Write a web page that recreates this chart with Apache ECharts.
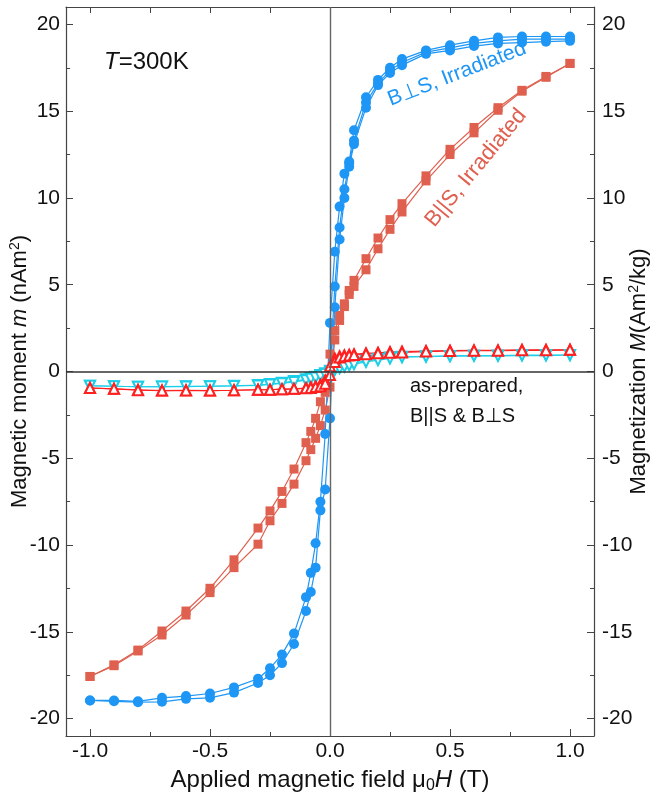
<!DOCTYPE html>
<html>
<head>
<meta charset="utf-8">
<script src="https://cdn.jsdelivr.net/npm/echarts@6/dist/echarts.min.js"></script>
<style>
html,body{margin:0;padding:0;background:#fff;}
#chart{width:657px;height:792px;}
</style>
</head>
<body>
<div id="chart"></div>
<script>
// Field values (T)
const H_DESC = [1, 0.9, 0.8, 0.7, 0.6, 0.5, 0.4, 0.3, 0.25, 0.2, 0.15, 0.1, 0.08, 0.06, 0.04, 0.02, 0, -0.02, -0.04, -0.06, -0.08, -0.1, -0.15, -0.2, -0.25, -0.3, -0.4, -0.5, -0.6, -0.7, -0.8, -0.9, -1];
const H_ASC = [-1, -0.9, -0.8, -0.7, -0.6, -0.5, -0.4, -0.3, -0.25, -0.2, -0.15, -0.1, -0.08, -0.06, -0.04, -0.02, 0, 0.02, 0.04, 0.06, 0.08, 0.1, 0.15, 0.2, 0.25, 0.3, 0.4, 0.5, 0.6, 0.7, 0.8, 0.9, 1];
const H_VIRGIN = [0, 0.02, 0.04, 0.06, 0.08, 0.1, 0.15, 0.2, 0.25, 0.3, 0.4, 0.5, 0.6, 0.7, 0.8, 0.9, 1];

// B⊥S, Irradiated (nAm^2)
const perpIrrDesc = [19.3, 19.3, 19.3, 19.25, 19.05, 18.8, 18.5, 18.0, 17.5, 16.8, 15.8, 13.9, 12.1, 11.4, 9.5, 6.9, 2.8, -3.6, -7.5, -9.9, -11.6, -13.0, -15.1, -16.3, -17.1, -17.7, -18.2, -18.55, -18.7, -18.8, -19.0, -18.95, -18.95];
const perpIrrAsc = [-18.95, -19.0, -19.05, -19.03, -18.86, -18.8, -18.5, -17.95, -17.5, -16.8, -15.7, -13.8, -12.7, -11.3, -8.0, -6.8, -2.7, 3.7, 7.6, 10.0, 11.8, 13.1, 15.2, 16.5, 17.2, 17.65, 18.3, 18.5, 18.75, 18.9, 18.95, 19.0, 19.05];
const perpIrrVirgin = [0, 4.9, 8.3, 10.5, 12.0, 13.3, 15.5, 16.6, 17.35, 17.8, 18.4, 18.65, 18.9, 19.05, 19.15, 19.15, 19.15];

// B||S, Irradiated
const parIrrDesc = [17.75, 17.0, 16.2, 15.2, 14.06, 12.8, 11.27, 9.67, 8.75, 7.69, 6.5, 5.25, 4.67, 3.9, 3.23, 2.36, 1.0, -1.2, -1.74, -2.7, -3.45, -4.1, -5.62, -6.91, -8.03, -9.02, -10.85, -12.49, -13.8, -14.95, -16.05, -16.9, -17.57];
const parIrrAsc = [-17.57, -16.95, -16.1, -15.18, -14.03, -12.74, -11.3, -9.95, -8.6, -7.6, -6.49, -5.14, -4.5, -3.85, -3.12, -2.22, -0.9, 1.82, 2.94, 3.74, 4.44, 4.9, 5.86, 7.07, 8.19, 9.19, 10.98, 12.5, 13.75, 15.05, 16.15, 16.95, 17.75];

// as-prepared, B||S (up triangles)
const parPrepDesc = [1.25, 1.25, 1.25, 1.22, 1.22, 1.2, 1.18, 1.15, 1.12, 1.08, 1.05, 1.0, 0.97, 0.93, 0.88, 0.75, 0.3, -0.5, -0.75, -0.85, -0.9, -0.95, -1.0, -1.02, -1.05, -1.05, -1.08, -1.1, -1.08, -1.1, -1.05, -1.0, -0.95];
const parPrepAsc = [-0.95, -1.0, -1.08, -1.1, -1.1, -1.1, -1.08, -1.05, -1.05, -1.02, -1.0, -0.97, -0.95, -0.9, -0.85, -0.7, -0.2, 0.55, 0.8, 0.88, 0.92, 0.95, 1.0, 1.05, 1.08, 1.1, 1.15, 1.18, 1.2, 1.2, 1.22, 1.22, 1.25];
// as-prepared, B⊥S (down triangles)
const perpPrepDesc = [0.95, 0.95, 0.95, 0.92, 0.92, 0.9, 0.88, 0.85, 0.8, 0.72, 0.62, 0.5, 0.42, 0.35, 0.25, 0.15, 0.05, -0.1, -0.2, -0.3, -0.38, -0.45, -0.55, -0.65, -0.72, -0.78, -0.82, -0.85, -0.85, -0.87, -0.88, -0.85, -0.82];
const perpPrepAsc = [-0.82, -0.85, -0.88, -0.87, -0.87, -0.85, -0.83, -0.8, -0.75, -0.68, -0.6, -0.5, -0.42, -0.35, -0.25, -0.15, -0.05, 0.08, 0.18, 0.28, 0.35, 0.42, 0.55, 0.65, 0.75, 0.82, 0.85, 0.88, 0.9, 0.9, 0.92, 0.92, 0.95];

// Tick values
const X_MAJOR = [-1, -0.5, 0, 0.5, 1];
const X_MINOR = [-0.75, -0.25, 0.25, 0.75];
const X_TOP = [-1, -0.75, -0.5, -0.25, 0, 0.25, 0.5, 0.75, 1];
const Y_MAJOR = [-20, -15, -10, -5, 0, 5, 10, 15, 20];
const Y_MINOR = [-17.5, -12.5, -7.5, -2.5, 2.5, 7.5, 12.5, 17.5];

const FONT = 'Liberation Sans, Arial, sans-serif';
const BLUE = '#1e96f5';
const SALMON = '#e0604f';
const RED = '#ff2020';
const CYAN = '#1ccfe8';

function zip(hs, vs) { return hs.map((h, i) => [h, vs[i]]); }

function lineSeries(data, color, symbol, size, extra) {
  return Object.assign({
    type: 'line', data: data, xAxisIndex: 0, yAxisIndex: 0,
    symbol: symbol, symbolSize: size, showAllSymbol: true,
    lineStyle: { color: color, width: 1.2 },
    itemStyle: { color: color },
    animation: false, silent: true
  }, extra || {});
}

const chart = echarts.init(document.getElementById('chart'), null, { renderer: 'canvas' });

const tickLabel = { color: '#111', fontSize: 21, fontFamily: FONT };
const axisLineStyle = { color: '#444', width: 1.2 };
const xTitleRich = {
  n: { fontSize: 24, fontFamily: FONT, color: '#111' },
  sub: { fontSize: 16, fontFamily: FONT, color: '#111', padding: [12, 0, 0, 0] },
  i: { fontSize: 24, fontFamily: FONT, fontStyle: 'italic', color: '#111' }
};
const yTitleRich = {
  n: { fontSize: 22, fontFamily: FONT, color: '#111' },
  sup: { fontSize: 14, fontFamily: FONT, color: '#111', padding: [0, 0, 10, 0] },
  i: { fontSize: 22, fontFamily: FONT, fontStyle: 'italic', color: '#111' }
};

const option = {
  backgroundColor: '#fff',
  animation: false,
  grid: { left: 66, right: 63, top: 7, bottom: 56, containLabel: false, outerBoundsMode: 'none' },
  xAxis: [
    { type: 'value', position: 'bottom', min: -1.1, max: 1.1,
      axisLine: { show: true, onZero: false, lineStyle: axisLineStyle },
      axisTick: { show: true, inside: true, length: 7, customValues: X_MAJOR, lineStyle: { color: '#444' } },
      axisLabel: { show: true, customValues: X_MAJOR, formatter: v => v.toFixed(1), margin: 5, ...tickLabel },
      splitLine: { show: false },
      name: '{n|Applied magnetic field μ}{sub|0}{i|H}{n| (T)}',
      nameLocation: 'middle', nameGap: 30,
      nameTextStyle: { rich: xTitleRich }
    },
    { type: 'value', position: 'bottom', min: -1.1, max: 1.1,
      axisLine: { show: false, onZero: false },
      axisTick: { show: true, inside: true, length: 4, customValues: X_MINOR, lineStyle: { color: '#444' } },
      axisLabel: { show: false }, splitLine: { show: false } },
    { type: 'value', position: 'top', min: -1.1, max: 1.1,
      axisLine: { show: true, onZero: false, lineStyle: axisLineStyle },
      axisTick: { show: true, inside: true, length: 6, customValues: X_TOP, lineStyle: { color: '#444' } },
      axisLabel: { show: false }, splitLine: { show: false } }
  ],
  yAxis: [
    { type: 'value', position: 'left', min: -21, max: 21,
      axisLine: { show: true, onZero: false, lineStyle: axisLineStyle },
      axisTick: { show: true, inside: true, length: 7, customValues: Y_MAJOR, lineStyle: { color: '#444' } },
      axisLabel: { show: true, customValues: Y_MAJOR, margin: 6, ...tickLabel },
      splitLine: { show: false },
      name: '{n|Magnetic moment }{i|m}{n| (nAm}{sup|2}{n|)}',
      nameLocation: 'middle', nameGap: 34, nameRotate: 90, nameMoveOverlap: false,
      nameTextStyle: { rich: yTitleRich }
    },
    { type: 'value', position: 'left', min: -21, max: 21,
      axisLine: { show: false, onZero: false },
      axisTick: { show: true, inside: true, length: 4, customValues: Y_MINOR, lineStyle: { color: '#444' } },
      axisLabel: { show: false }, splitLine: { show: false } },
    { type: 'value', position: 'right', min: -21, max: 21,
      axisLine: { show: true, onZero: false, lineStyle: axisLineStyle },
      axisTick: { show: true, inside: true, length: 7, customValues: Y_MAJOR, lineStyle: { color: '#444' } },
      axisLabel: { show: true, customValues: Y_MAJOR, margin: 8, ...tickLabel },
      splitLine: { show: false },
      name: '{n|Magnetization }{i|M}{n|(Am}{sup|2}{n|/kg)}',
      nameLocation: 'middle', nameGap: 33, nameRotate: 90, nameMoveOverlap: false,
      nameTextStyle: { rich: yTitleRich }
    },
    { type: 'value', position: 'right', min: -21, max: 21,
      axisLine: { show: false, onZero: false },
      axisTick: { show: true, inside: true, length: 4, customValues: Y_MINOR, lineStyle: { color: '#444' } },
      axisLabel: { show: false }, splitLine: { show: false } }
  ],
  series: [
    lineSeries(zip(H_DESC, parIrrDesc), SALMON, 'rect', 9, {
      markLine: {
        silent: true, symbol: 'none', label: { show: false }, animation: false,
        data: [
          { yAxis: 0, lineStyle: { color: '#333', width: 1.6, type: 'solid' } },
          { xAxis: 0, lineStyle: { color: '#666', width: 1.4, type: 'solid' } }
        ]
      }
    }),
    lineSeries(zip(H_ASC, parIrrAsc), SALMON, 'rect', 9),
    lineSeries(zip(H_VIRGIN, perpIrrVirgin), BLUE, 'circle', 10),
    lineSeries(zip(H_DESC, perpIrrDesc), BLUE, 'circle', 10),
    lineSeries(zip(H_ASC, perpIrrAsc), BLUE, 'circle', 10),
    lineSeries(zip(H_DESC, perpPrepDesc), CYAN, 'emptyTriangle', 10, { symbolRotate: 180, itemStyle: { color: CYAN, borderWidth: 1.3 } }),
    lineSeries(zip(H_ASC, perpPrepAsc), CYAN, 'emptyTriangle', 10, { symbolRotate: 180, itemStyle: { color: CYAN, borderWidth: 1.3 } }),
    lineSeries(zip(H_DESC, parPrepDesc), RED, 'emptyTriangle', 10, { itemStyle: { color: RED, borderWidth: 1.3 } }),
    lineSeries(zip(H_ASC, parPrepAsc), RED, 'emptyTriangle', 10, { itemStyle: { color: RED, borderWidth: 1.3 } })
  ],
  graphic: [
    { type: 'text', left: 104, top: 50, silent: true,
      style: { text: '{i|T}{n|=300K}', rich: {
        i: { fontSize: 24, fontFamily: FONT, fontStyle: 'italic', fill: '#111' },
        n: { fontSize: 24, fontFamily: FONT, fill: '#111' } } } },
    { type: 'text', x: 457, y: 74, rotation: 0.37, silent: true,
      style: { text: 'B⊥S, Irradiated', fontSize: 21, fontFamily: FONT, fill: BLUE, align: 'center', verticalAlign: 'middle' } },
    { type: 'text', x: 476, y: 168, rotation: 0.88, silent: true,
      style: { text: 'B||S, Irradiated', fontSize: 22, fontFamily: FONT, fill: SALMON, align: 'center', verticalAlign: 'middle' } },
    { type: 'text', left: 410, top: 371, silent: true,
      style: { text: 'as-prepared,\nB||S & B⊥S', fontSize: 20, lineHeight: 30, fontFamily: FONT, fill: '#111' } }
  ]
};

chart.setOption(option);
</script>
</body>
</html>
